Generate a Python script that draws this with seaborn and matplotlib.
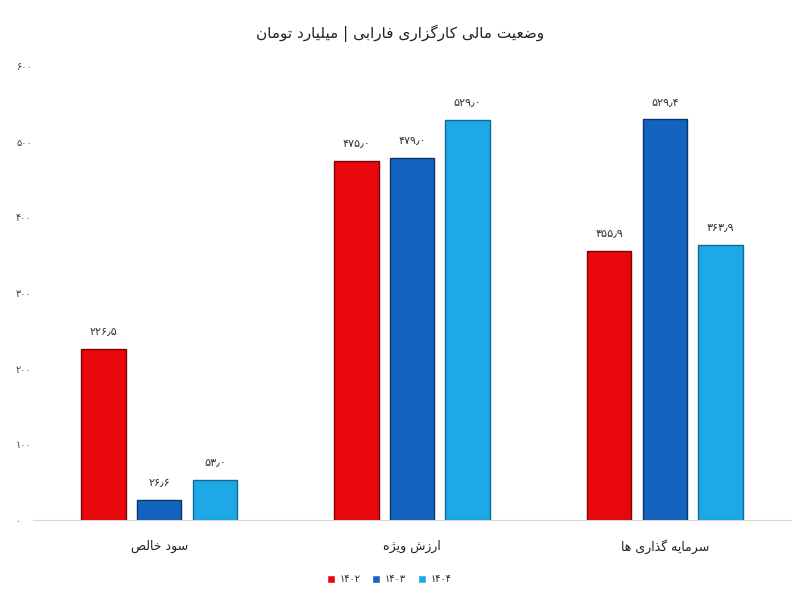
import matplotlib
matplotlib.use("Agg")
import matplotlib.pyplot as plt
import seaborn as sns
import pandas as pd
from matplotlib.ticker import FuncFormatter

# --- data ---
categories = ["سود خالص", "ارزش ویژه", "سرمایه گذاری ها"]
years = ["۱۴۰۲", "۱۴۰۳", "۱۴۰۴"]
values_1402 = [226.5, 475.0, 355.9]
values_1403 = [26.6, 479.0, 529.4]
values_1404 = [53.0, 529.0, 363.9]
title = "وضعیت مالی کارگزاری فارابی | میلیارد تومان"
colors = ["#e8070b", "#1464bf", "#1ea8e6"]
edges = ["#7a0306", "#0a3566", "#0e6a96"]

# minimal arabic shaping (isolated, final, initial, medial)
FORMS = {
    'ا': ('\uFE8D', '\uFE8E', None, None), 'آ': ('\uFE81', '\uFE82', None, None),
    'ب': ('\uFE8F', '\uFE90', '\uFE91', '\uFE92'), 'پ': ('\uFB56', '\uFB57', '\uFB58', '\uFB59'),
    'ت': ('\uFE95', '\uFE96', '\uFE97', '\uFE98'), 'خ': ('\uFEA5', '\uFEA6', '\uFEA7', '\uFEA8'),
    'د': ('\uFEA9', '\uFEAA', None, None), 'ذ': ('\uFEAB', '\uFEAC', None, None),
    'ر': ('\uFEAD', '\uFEAE', None, None), 'ز': ('\uFEAF', '\uFEB0', None, None),
    'ژ': ('\uFB8A', '\uFB8B', None, None), 'س': ('\uFEB1', '\uFEB2', '\uFEB3', '\uFEB4'),
    'ش': ('\uFEB5', '\uFEB6', '\uFEB7', '\uFEB8'), 'ص': ('\uFEB9', '\uFEBA', '\uFEBB', '\uFEBC'),
    'ض': ('\uFEBD', '\uFEBE', '\uFEBF', '\uFEC0'), 'ع': ('\uFEC9', '\uFECA', '\uFECB', '\uFECC'),
    'ف': ('\uFED1', '\uFED2', '\uFED3', '\uFED4'), 'ک': ('\uFB8E', '\uFB8F', '\uFB90', '\uFB91'),
    'گ': ('\uFB92', '\uFB93', '\uFB94', '\uFB95'), 'ل': ('\uFEDD', '\uFEDE', '\uFEDF', '\uFEE0'),
    'م': ('\uFEE1', '\uFEE2', '\uFEE3', '\uFEE4'), 'ن': ('\uFEE5', '\uFEE6', '\uFEE7', '\uFEE8'),
    'ه': ('\uFEE9', '\uFEEA', '\uFEEB', '\uFEEC'), 'و': ('\uFEED', '\uFEEE', None, None),
    'ی': ('\uFBFC', '\uFBFD', '\uFBFE', '\uFBFF'),
}


def fa(text):
    out = []
    for i, ch in enumerate(text):
        if ch not in FORMS:
            out.append(ch)
            continue
        prev = text[i - 1] if i > 0 else ""
        nxt = text[i + 1] if i + 1 < len(text) else ""
        join_prev = prev in FORMS and FORMS[prev][2] is not None
        join_next = FORMS[ch][2] is not None and nxt in FORMS
        iso, fin, ini, med = FORMS[ch]
        if join_prev and join_next:
            out.append(med)
        elif join_prev:
            out.append(fin)
        elif join_next:
            out.append(ini)
        else:
            out.append(iso)
    return "".join(out)[::-1]


def fa_num(s):
    return s.translate(str.maketrans("0123456789.", "۰۱۲۳۴۵۶۷۸۹٫"))


cat_labels = [fa(c) for c in categories]
df = pd.DataFrame({
    "category": cat_labels * 3,
    "year": [y for y in years for _ in categories],
    "value": values_1402 + values_1403 + values_1404,
})

sns.set_style("white")
plt.rcParams["font.family"] = ["DejaVu Sans"]

fig = plt.figure(figsize=(8, 6), dpi=100)
ax = fig.add_axes([0.041, 0.1333, 0.948, 0.7567])
sns.barplot(data=df, x="category", y="value", hue="year", hue_order=years,
            palette=colors, saturation=1, width=0.66, gap=0.2, ax=ax, legend=True)

for i, cont in enumerate(ax.containers):
    for bar in cont:
        bar.set_edgecolor(edges[i])
        bar.set_linewidth(1.0)
    ax.bar_label(cont, labels=[fa_num(f"{v:.1f}") for v in cont.datavalues],
                 padding=9, fontsize=8, color="#333333")

ax.set_ylim(0, 600)
ax.set_yticks(range(0, 601, 100))
ax.yaxis.set_major_formatter(FuncFormatter(lambda v, p: fa_num(str(int(v)))))
ax.tick_params(axis="y", labelsize=7, colors="#444444", pad=12, length=0)
ax.tick_params(axis="x", labelsize=9, colors="#222222", pad=14, length=0)
for lbl in ax.get_yticklabels():
    lbl.set_horizontalalignment("left")
ax.set_xlabel("")
ax.set_ylabel("")
for s in ["top", "right", "left"]:
    ax.spines[s].set_visible(False)
ax.spines["bottom"].set_color("#d9d9d9")

ax.legend(loc="upper center", bbox_to_anchor=(0.47, -0.1), ncol=3, frameon=False,
          fontsize=7, handlelength=0.8, handleheight=0.8, columnspacing=1.2, handletextpad=0.5)

fig.text(0.5, 0.945, fa(title), ha="center", va="center", fontsize=11, color="#222222")

fig.savefig("out.png", dpi=100)
